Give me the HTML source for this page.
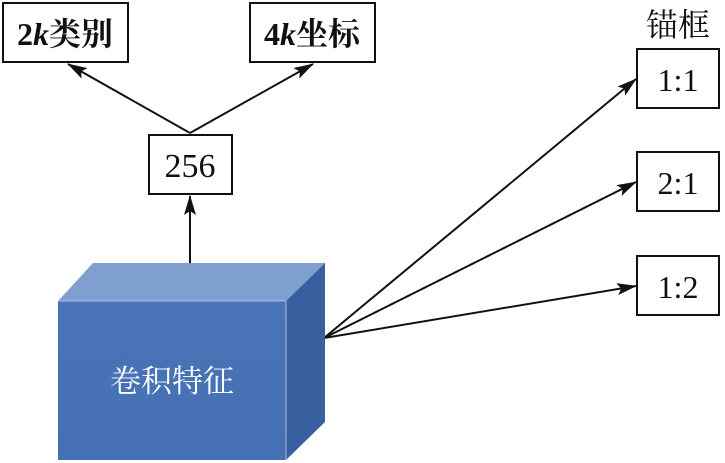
<!DOCTYPE html>
<html><head><meta charset="utf-8"><style>
html,body{margin:0;padding:0;background:#fff;}
svg{display:block;}
</style></head><body>
<svg width="725" height="463" viewBox="0 0 725 463" xmlns="http://www.w3.org/2000/svg">
<defs>
<marker id="a" markerWidth="20" markerHeight="12" refX="19" refY="6" orient="auto" markerUnits="userSpaceOnUse">
<path d="M0,0 L20,6 L0,12 L4,6 Z" fill="#111"/>
</marker>
<linearGradient id="f" x1="0" y1="0" x2="0" y2="1"><stop offset="0" stop-color="#4a74b8"/><stop offset="1" stop-color="#4570b4"/></linearGradient>
</defs>
<g stroke="#111" stroke-width="2" fill="#fff">
<rect x="3" y="3" width="125" height="59"/>
<rect x="250" y="3" width="125" height="59"/>
<rect x="149" y="135" width="83" height="59"/>
<rect x="637" y="49" width="82" height="59"/>
<rect x="637" y="152" width="82" height="59"/>
<rect x="637" y="256" width="82" height="59"/>
</g>
<g font-family="'Liberation Serif','DejaVu Serif','Noto Serif CJK SC',serif" fill="#111">
<text x="65" y="45" font-size="32" font-weight="bold" text-anchor="middle">2<tspan font-style="italic">k</tspan>类别</text>
<text x="312" y="45" font-size="32" font-weight="bold" text-anchor="middle">4<tspan font-style="italic">k</tspan>坐标</text>
<text x="190" y="177" font-size="34" text-anchor="middle">256</text>
<text x="678" y="91" font-size="32" text-anchor="middle">1:1</text>
<text x="678" y="194" font-size="32" text-anchor="middle">2:1</text>
<text x="678" y="298" font-size="32" text-anchor="middle">1:2</text>
<text x="678" y="36" font-size="32" text-anchor="middle">锚框</text>
</g>
<g stroke="#111" stroke-width="2" fill="none" marker-end="url(#a)">
<line x1="190" y1="133" x2="68" y2="64"/>
<line x1="190" y1="133" x2="313" y2="64"/>
<line x1="190" y1="265" x2="190" y2="196"/>
<line x1="324" y1="338" x2="636" y2="79"/>
<line x1="324" y1="338" x2="636" y2="182"/>
<line x1="324" y1="338" x2="636" y2="286"/>
</g>
<polygon points="58,301 93,263 325,263 286,301" fill="#7f9fcf"/>
<polygon points="286,301 325,263 325,422 286,460" fill="#3a5f9e"/>
<rect x="58" y="301" width="228" height="159" fill="url(#f)"/>
<line x1="58" y1="301" x2="286" y2="301" stroke="#a8bde0" stroke-width="1"/>
<line x1="286" y1="301" x2="286" y2="460" stroke="#a8bde0" stroke-width="1"/>
<text x="172" y="392" font-size="31" text-anchor="middle" font-family="'Noto Serif CJK SC','Noto Sans CJK SC',serif" fill="#fff">卷积特征</text>
</svg>
</body></html>
